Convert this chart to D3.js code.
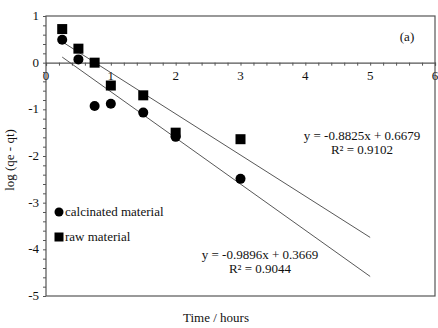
<!DOCTYPE html>
<html>
<head>
<meta charset="utf-8">
<script src="https://cdn.jsdelivr.net/npm/d3@7"></script>
<style>
  body { margin: 0; background: #fff; }
  text { font-family: "Liberation Serif", "Times New Roman", serif; fill: #111; }
</style>
</head>
<body>
<div id="chart"></div>
<script>
const timeValues = [0.25, 0.5, 0.75, 1, 1.5, 2, 3];
const calcinatedValues = [0.49, 0.07, -0.93, -0.88, -1.07, -1.59, -2.49];
const rawValues = [0.72, 0.3, 0, -0.49, -0.7, -1.5, -1.64];
const xTicks = [0, 1, 2, 3, 4, 5, 6];
const yTicks = [1, 0, -1, -2, -3, -4, -5];
// fitted lines: slope, intercept, range
const rawFit = {slope: -0.8825, intercept: 0.6679, from: 0.25, to: 5};
const calcFit = {slope: -0.9896, intercept: 0.3669, from: 0.25, to: 5};

const width = 438;
const height = 328;
const axisColor = '#555555';
const fontSize = '13px';

const margin = {top: 16, right: 3, bottom: 32, left: 46};

const svg = d3.select('#chart')
  .append('svg')
  .attr('width', width)
  .attr('height', height);

const xScale = d3.scaleLinear()
  .domain([0, 6])
  .range([margin.left, width - margin.right]);

const yScale = d3.scaleLinear()
  .domain([-5, 1])
  .range([height - margin.bottom, margin.top]);

// plot frame
svg.append('rect')
  .attr('x', xScale(0))
  .attr('y', yScale(1))
  .attr('width', xScale(6) - xScale(0))
  .attr('height', yScale(-5) - yScale(1))
  .attr('fill', 'none')
  .attr('stroke', axisColor)
  .attr('stroke-width', 1.2);

// x axis along y = 0
const xMinor = d3.range(0, 6.001, 0.2);
const xAxisElement = svg.append('g')
  .attr('transform', `translate(0, ${yScale(0)})`)
  .call(d3.axisBottom(xScale).tickValues(xMinor).tickSize(3).tickFormat(''));
xAxisElement.select('path').attr('stroke', axisColor).attr('stroke-width', 1.2);
xAxisElement.selectAll('line').attr('stroke', axisColor);

svg.append('g')
  .selectAll('text')
  .data(xTicks)
  .join('text')
  .attr('x', d => xScale(d))
  .attr('y', yScale(0) + 17)
  .attr('text-anchor', 'middle')
  .style('font-size', fontSize)
  .text(d => d);

// y axis
const yMinor = d3.range(-5, 1.001, 0.2);
const yAxisElement = svg.append('g')
  .attr('transform', `translate(${xScale(0)}, 0)`)
  .call(d3.axisLeft(yScale).tickValues(yMinor).tickSize(3).tickFormat(''));
yAxisElement.select('path').remove();
yAxisElement.selectAll('line').attr('stroke', axisColor);

svg.append('g')
  .selectAll('text')
  .data(yTicks)
  .join('text')
  .attr('x', xScale(0) - 7)
  .attr('y', d => yScale(d) + 4)
  .attr('text-anchor', 'end')
  .style('font-size', fontSize)
  .text(d => d);

// fitted lines
[rawFit, calcFit].forEach(fit => {
  svg.append('line')
    .attr('x1', xScale(fit.from))
    .attr('y1', yScale(fit.slope * fit.from + fit.intercept))
    .attr('x2', xScale(fit.to))
    .attr('y2', yScale(fit.slope * fit.to + fit.intercept))
    .attr('stroke', '#444')
    .attr('stroke-width', 0.9);
});

// markers
svg.append('g')
  .selectAll('rect')
  .data(timeValues.map((t, i) => [t, rawValues[i]]))
  .join('rect')
  .attr('x', d => xScale(d[0]) - 5)
  .attr('y', d => yScale(d[1]) - 5)
  .attr('width', 10)
  .attr('height', 10)
  .attr('fill', '#000');

svg.append('g')
  .selectAll('circle')
  .data(timeValues.map((t, i) => [t, calcinatedValues[i]]))
  .join('circle')
  .attr('cx', d => xScale(d[0]))
  .attr('cy', d => yScale(d[1]))
  .attr('r', 5)
  .attr('fill', '#000');

// legend
const legend = svg.append('g').attr('transform', 'translate(59, 212)');
legend.append('circle').attr('cx', 0).attr('cy', 0).attr('r', 4.5).attr('fill', '#000');
legend.append('text').attr('x', 6).attr('y', 4).style('font-size', fontSize).text('calcinated material');
legend.append('rect').attr('x', -4.5).attr('y', 20.5).attr('width', 9).attr('height', 9).attr('fill', '#000');
legend.append('text').attr('x', 6).attr('y', 29).style('font-size', fontSize).text('raw material');

// equations
const eqs = [
  {x: 362, y: 140, lines: ['y = -0.8825x + 0.6679', 'R² = 0.9102']},
  {x: 260, y: 259, lines: ['y = -0.9896x + 0.3669', 'R² = 0.9044']}
];
eqs.forEach(eq => {
  eq.lines.forEach((txt, i) => {
    svg.append('text')
      .attr('x', eq.x)
      .attr('y', eq.y + i * 14)
      .attr('text-anchor', 'middle')
      .style('font-size', fontSize)
      .text(txt);
  });
});

svg.append('text')
  .attr('x', 407)
  .attr('y', 41)
  .attr('text-anchor', 'middle')
  .style('font-size', fontSize)
  .text('(a)');

// axis titles
svg.append('text')
  .attr('x', 216)
  .attr('y', 322)
  .attr('text-anchor', 'middle')
  .style('font-size', fontSize)
  .text('Time / hours');

svg.append('text')
  .attr('transform', `translate(14, 160) rotate(-90)`)
  .attr('text-anchor', 'middle')
  .style('font-size', fontSize)
  .text('log (qe - qt)');
</script>
</body>
</html>
